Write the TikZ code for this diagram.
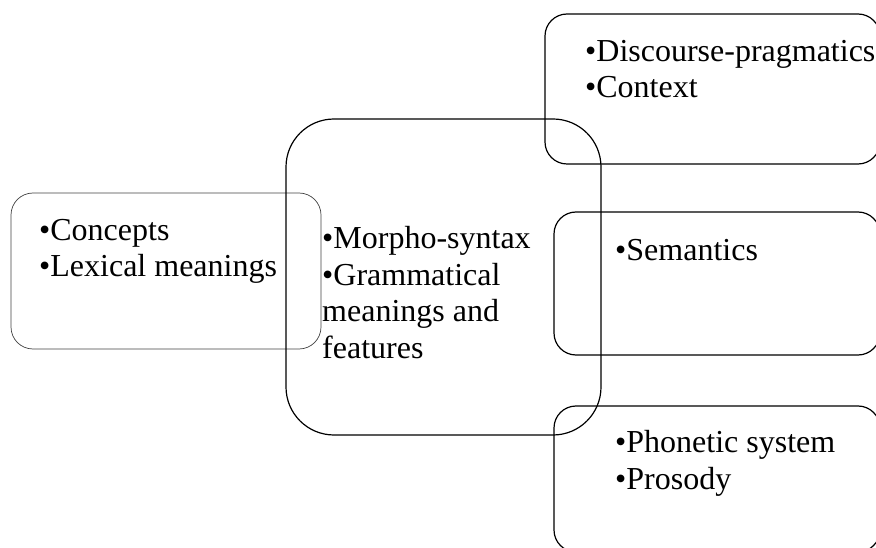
\documentclass[tikz,border=0pt]{standalone}
\usepackage{fontspec}
\setmainfont{Liberation Serif}
\begin{document}
\begin{tikzpicture}[x=1pt,y=1pt,
bubble/.style={draw,line width=1.2pt,rounded corners=22pt},
boxtext/.style={anchor=base west,inner sep=0pt,align=left,
font=\fontsize{32}{36.5}\selectfont}]

\useasboundingbox (0,0) rectangle (876,547);

% Concepts
\node[bubble,draw=black!75,line width=0.7pt,
minimum width=310pt,minimum height=156pt] (lex) at (166,276) {};
\node[boxtext] (lextxt) at (39,270)
{•Concepts\\•Lexical meanings};

% Morpho-syntax
\node[bubble,rounded corners=48pt,
minimum width=315pt,minimum height=316pt] (morph) at (443.5,270) {};
\node[boxtext] (morphtxt) at (322,189)
{•Morpho-syntax\\•Grammatical\\meanings and\\features};

% Discourse
\node[bubble,minimum width=335pt,minimum height=150pt] (disc) at (712.5,458) {};
\node[boxtext] (disctxt) at (585,449)
{•Discourse-pragmatics\\•Context};

% Semantics
\node[bubble,minimum width=326pt,minimum height=143pt] (sem) at (717,263.5) {};
\node[boxtext] (semtxt) at (615,286)
{•Semantics};

% Phonetics
\node[bubble,minimum width=326pt,minimum height=146pt] (phon) at (717,68) {};
\node[boxtext] (phontxt) at (615,58)
{•Phonetic system\\•Prosody};

\end{tikzpicture}
\end{document}
